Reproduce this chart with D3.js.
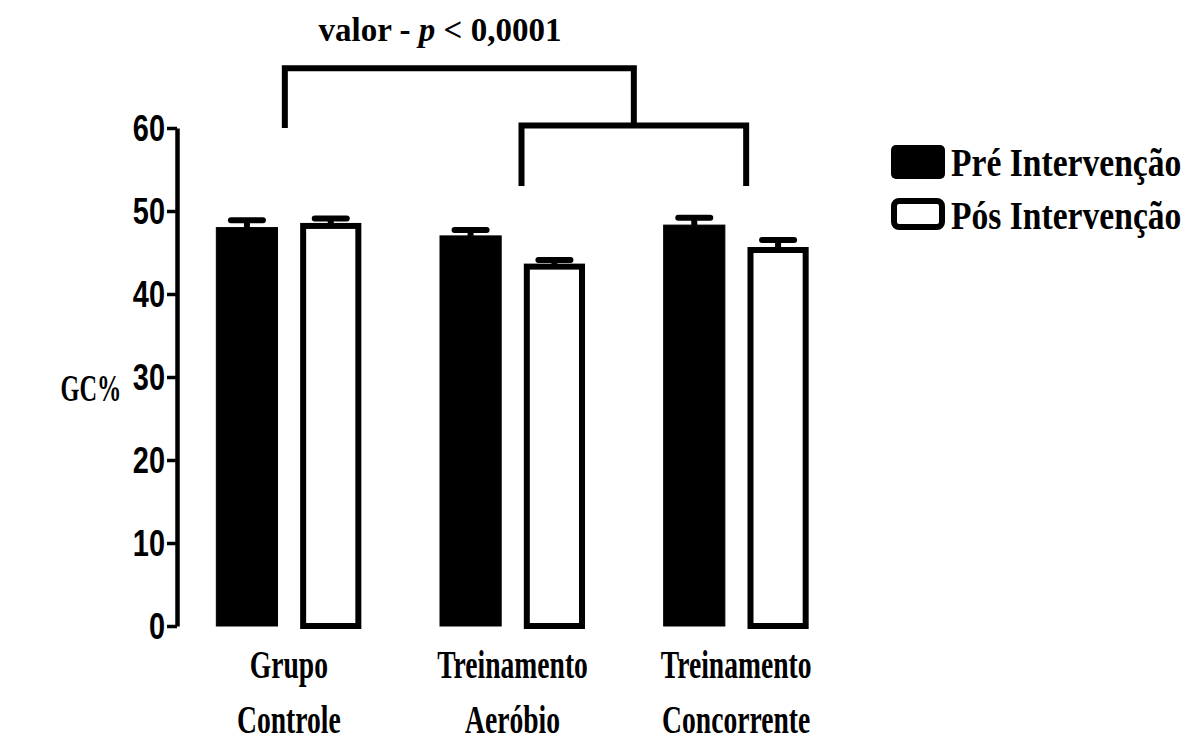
<!DOCTYPE html>
<html>
<head>
<meta charset="utf-8">
<script src="https://cdn.jsdelivr.net/npm/d3@7"></script>
<style>
  html, body { margin: 0; padding: 0; background: #fff; }
  svg { display: block; }
</style>
</head>
<body>
<svg id="chart" width="1192" height="748"></svg>
<script>
// groups on the x axis, each label split in two lines
const groups = ['Grupo Controle', 'Treinamento Aeróbio', 'Treinamento Concorrente']
const groupLines = [['Grupo', 'Controle'], ['Treinamento', 'Aeróbio'], ['Treinamento', 'Concorrente']]
const series = ['Pré Intervenção', 'Pós Intervenção']

// GC% means and SEM
const preValues = [48.0, 47.0, 48.3]
const postValues = [48.2, 43.3, 45.3]
const preErrors = [0.9, 0.7, 0.9]
const postErrors = [0.9, 0.8, 1.2]

const yTicks = [0, 10, 20, 30, 40, 50, 60]

// significance brackets: [fromGroup, toGroup, barLevel, legLevel]
const brackets = [
  { from: 0, to: 'mid', level: 67.2, leg: 60.0 },
  { from: 1, to: 2, level: 60.3, leg: 53.0 }
]

const svg = d3.select('#chart')
const ink = '#000'

const x = d3.scaleBand().domain(groups).range([177, 848]).paddingInner(0).paddingOuter(0)
const xSub = d3.scaleBand().domain(series)
  .range([x.bandwidth() / 2 - 72.5, x.bandwidth() / 2 + 72.5])
  .paddingInner(0.27)
const y = d3.scaleLinear().domain([0, 60]).range([626, 128])

const rows = groups.map((g, i) => ({
  group: g,
  bars: [
    { key: series[0], value: preValues[i], err: preErrors[i] },
    { key: series[1], value: postValues[i], err: postErrors[i] }
  ]
}))

// bars
const gBars = svg.append('g')
  .selectAll('g')
  .data(rows)
  .join('g')
  .attr('transform', d => `translate(${x(d.group)},0)`)

const bar = gBars.selectAll('g.bar')
  .data(d => d.bars)
  .join('g')
  .attr('class', 'bar')

// error bars (upper half only, like the original)
bar.append('line')
  .attr('x1', d => xSub(d.key) + xSub.bandwidth() / 2)
  .attr('x2', d => xSub(d.key) + xSub.bandwidth() / 2)
  .attr('y1', d => y(d.value))
  .attr('y2', d => y(d.value + d.err))
  .attr('stroke', ink)
  .attr('stroke-width', 6)

bar.append('line')
  .attr('x1', d => xSub(d.key) + xSub.bandwidth() / 2 - 16)
  .attr('x2', d => xSub(d.key) + xSub.bandwidth() / 2 + 16)
  .attr('y1', d => y(d.value + d.err))
  .attr('y2', d => y(d.value + d.err))
  .attr('stroke', ink)
  .attr('stroke-width', 6)
  .attr('stroke-linecap', 'round')

bar.append('rect')
  .attr('x', d => xSub(d.key) + (d.key === series[0] ? 0 : 3))
  .attr('width', d => xSub.bandwidth() - (d.key === series[0] ? 0 : 6))
  .attr('y', d => y(d.value))
  .attr('height', d => y(0) - y(d.value))
  .attr('fill', d => d.key === series[0] ? ink : '#fff')
  .attr('stroke', ink)
  .attr('stroke-width', d => d.key === series[0] ? 1 : 6)

// y axis
const tickSx = 0.85, tickSy = 1.08
const yAxis = svg.append('g')
  .attr('transform', 'translate(177,0)')
  .call(d3.axisLeft(y).tickValues(yTicks).tickSize(10).tickSizeOuter(0).tickPadding(3))
yAxis.select('.domain').attr('stroke-width', 4.5).attr('stroke', ink)
yAxis.selectAll('.tick line').attr('stroke-width', 3.5).attr('stroke', ink)
yAxis.selectAll('.tick text')
  .attr('font-family', '"Liberation Sans", Arial, sans-serif')
  .attr('font-weight', 'bold')
  .attr('font-size', 34)
  .attr('fill', ink)
  .attr('x', -12 / tickSx)
  .attr('y', 0)
  .attr('dy', '0.34em')
  .attr('transform', `scale(${tickSx},${tickSy})`)

// condensed serif labels: scale horizontally around their anchor
function condensed(sel, sx) {
  sel.each(function () {
    const t = d3.select(this)
    const cx = +t.attr('data-x'), cy = +t.attr('data-y')
    t.attr('transform', `translate(${cx},${cy}) scale(${sx},1)`)
  })
}

const serif = '"Liberation Serif", "Times New Roman", serif'

const xLab = svg.append('g')
groupLines.forEach((lines, i) => {
  lines.forEach((ln, j) => {
    xLab.append('text')
      .attr('data-x', x(groups[i]) + x.bandwidth() / 2)
      .attr('data-y', 678 + j * 55)
      .attr('text-anchor', 'middle')
      .attr('font-family', serif)
      .attr('font-weight', 'bold')
      .attr('font-size', 40)
      .attr('fill', ink)
      .text(ln)
  })
})
condensed(xLab.selectAll('text'), 0.69)

// y label
svg.append('text')
  .attr('data-x', 91).attr('data-y', 401)
  .attr('text-anchor', 'middle')
  .attr('font-family', serif)
  .attr('font-weight', 'bold')
  .attr('font-size', 38)
  .attr('fill', ink)
  .text('GC%')
  .call(condensed, 0.64)

// brackets
const center = i => x(groups[i]) + x.bandwidth() / 2
const b2 = brackets[1]
const b2Left = center(b2.from) + 9, b2Right = center(b2.to) + 10
const bracketLines = [
  // lower bracket between the two training groups
  [[b2Left, y(b2.leg)], [b2Left, y(b2.level)], [b2Right, y(b2.level)], [b2Right, y(b2.leg)]],
  // upper bracket from control to the middle of the lower one
  [[center(brackets[0].from) - 4, y(brackets[0].leg)], [center(brackets[0].from) - 4, y(brackets[0].level)],
   [(b2Left + b2Right) / 2, y(brackets[0].level)], [(b2Left + b2Right) / 2, y(b2.level)]]
]
svg.append('g')
  .selectAll('path')
  .data(bracketLines)
  .join('path')
  .attr('d', d3.line())
  .attr('fill', 'none')
  .attr('stroke', ink)
  .attr('stroke-width', 6)
  .attr('stroke-linejoin', 'miter')

// p-value annotation
const pText = svg.append('text')
  .attr('x', 440).attr('y', 41)
  .attr('text-anchor', 'middle')
  .attr('font-family', serif)
  .attr('font-weight', 'bold')
  .attr('font-size', 33)
  .attr('fill', ink)
pText.append('tspan').text('valor - ')
pText.append('tspan').attr('font-style', 'italic').text('p')
pText.append('tspan').text(' < 0,0001')

// legend
const legend = svg.append('g').attr('transform', 'translate(891,145)')
const li = legend.selectAll('g')
  .data(series)
  .join('g')
  .attr('transform', (d, i) => `translate(0,${i * 53})`)
li.append('rect')
  .attr('x', (d, i) => i === 0 ? 0 : 3)
  .attr('y', (d, i) => i === 0 ? 0 : 3)
  .attr('width', (d, i) => i === 0 ? 54 : 48)
  .attr('height', (d, i) => i === 0 ? 34 : 26)
  .attr('rx', 5)
  .attr('fill', (d, i) => i === 0 ? ink : '#fff')
  .attr('stroke', ink)
  .attr('stroke-width', (d, i) => i === 0 ? 0 : 6)
li.append('text')
  .attr('data-x', 60)
  .attr('data-y', 31)
  .attr('font-family', serif)
  .attr('font-weight', 'bold')
  .attr('font-size', 40)
  .attr('fill', ink)
  .text(d => d)
condensed(li.selectAll('text'), 0.84)
</script>
</body>
</html>
